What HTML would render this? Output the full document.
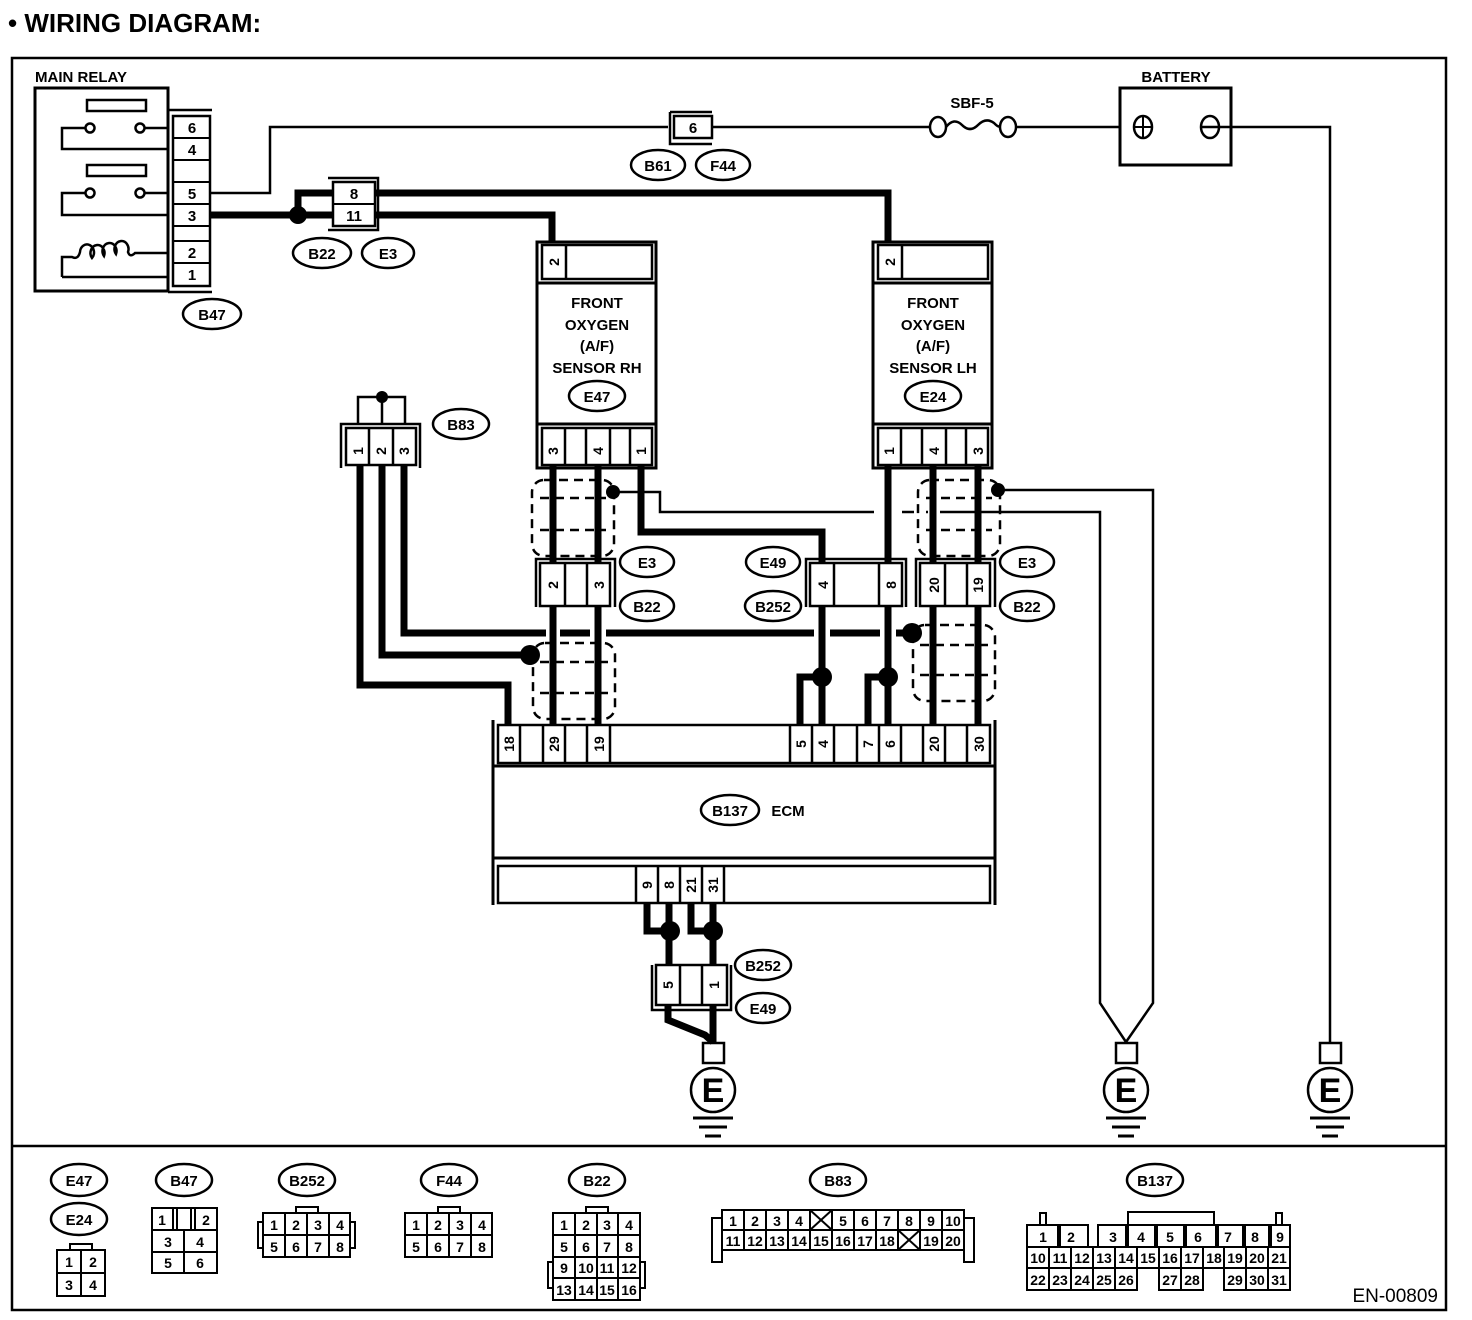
<!DOCTYPE html>
<html><head><meta charset="utf-8"><style>
html,body{margin:0;padding:0;background:#fff}
svg{display:block}
text{font-family:"Liberation Sans",Arial,sans-serif;font-weight:bold;fill:#000}
.l{font-size:15px}
.n{font-size:14px}
.g{font-size:13px;font-weight:normal}
</style></head><body>
<svg width="1472" height="1320" viewBox="0 0 1472 1320" xmlns="http://www.w3.org/2000/svg">
<g fill="none" stroke="#000">
<!-- frame -->
<rect x="12" y="58" width="1434" height="1252" stroke-width="2.5"/>
<line x1="12" y1="1146" x2="1446" y2="1146" stroke-width="2.5"/>

<!-- MAIN RELAY -->
<rect x="35" y="88" width="133" height="203" stroke-width="3"/>
<rect x="87" y="100" width="59" height="11" stroke-width="2.5"/>
<circle cx="90" cy="128" r="4.5" stroke-width="2.5"/><circle cx="140" cy="128" r="4.5" stroke-width="2.5"/>
<polyline points="86,128 62,128 62,149 168,149" stroke-width="2.5"/>
<line x1="145" y1="128" x2="168" y2="128" stroke-width="2.5"/>
<rect x="87" y="165" width="59" height="11" stroke-width="2.5"/>
<circle cx="90" cy="193" r="4.5" stroke-width="2.5"/><circle cx="140" cy="193" r="4.5" stroke-width="2.5"/>
<polyline points="86,193 62,193 62,215 168,215" stroke-width="2.5"/>
<line x1="145" y1="193" x2="168" y2="193" stroke-width="2.5"/>
<path d="M62,277 L62,257 L72,257 Q78,260 80,252 a7,8 0 1 1 12,6 a7,8 0 1 1 12,-2 a7,8 0 1 1 12,-2 a7,8 0 1 1 12,-2 Q130,258 135,253 L168,253" stroke-width="2.5"/>
<line x1="62" y1="277" x2="168" y2="277" stroke-width="2.5"/>
<!-- B47 connector -->
<polyline points="168,110 212,110" stroke-width="2.5"/>
<polyline points="168,292 212,292" stroke-width="2.5"/>
<rect x="173" y="116" width="37" height="170" stroke-width="2.5"/>
<line x1="173" y1="138" x2="210" y2="138" stroke-width="2"/>
<line x1="173" y1="160" x2="210" y2="160" stroke-width="2"/>
<line x1="173" y1="182" x2="210" y2="182" stroke-width="2"/>
<line x1="173" y1="204" x2="210" y2="204" stroke-width="2"/>
<line x1="173" y1="226" x2="210" y2="226" stroke-width="2"/>
<line x1="173" y1="241" x2="210" y2="241" stroke-width="2"/>
<line x1="173" y1="263" x2="210" y2="263" stroke-width="2"/>

<!-- thin wire relay 5 to battery -->
<polyline points="210,193 270,193 270,127 668,127" stroke-width="2.5"/>
<line x1="712" y1="127" x2="930" y2="127" stroke-width="2.5"/>
<polyline points="670,112 712,112" stroke-width="2.5"/>
<polyline points="670,112 670,144 712,144" stroke-width="2.5"/>
<rect x="674" y="116" width="38" height="22" stroke-width="2.5"/>
<ellipse cx="938" cy="127" rx="8" ry="10" stroke-width="2.5"/>
<ellipse cx="1008" cy="127" rx="8" ry="10" stroke-width="2.5"/>
<path d="M946,127 q8,-10 16,-2 t16,0 t16,-2 q6,6 6,2" stroke-width="2.5"/>
<line x1="1016" y1="127" x2="1120" y2="127" stroke-width="2.5"/>
<rect x="1120" y="88" width="111" height="77" stroke-width="3"/>
<ellipse cx="1143" cy="127" rx="9" ry="11" stroke-width="2.5"/>
<line x1="1134" y1="127" x2="1152" y2="127" stroke-width="2"/><line x1="1143" y1="117" x2="1143" y2="137" stroke-width="2"/>
<ellipse cx="1210" cy="127" rx="9" ry="11" stroke-width="2.5"/>
<polyline points="1201,127 1330,127 1330,1042" stroke-width="2.5"/>

<!-- thick wire relay 3 -->
<line x1="210" y1="215" x2="335" y2="215" stroke-width="7"/>
<polyline points="298,215 298,193 335,193" stroke-width="7"/>
<polyline points="328,178 378,178 378,230 328,230" stroke-width="2.5"/>
<rect x="333" y="182" width="42" height="44" fill="#fff" stroke-width="2.5"/>
<line x1="333" y1="204" x2="375" y2="204" stroke-width="2"/>
<polyline points="375,193 888,193 888,242" stroke-width="7"/>
<polyline points="375,215 552,215 552,242" stroke-width="7"/>

<!-- RH sensor -->
<rect x="537" y="242" width="119" height="226" stroke-width="3"/>
<rect x="542" y="245" width="110" height="34" stroke-width="2.5"/>
<line x1="566" y1="245" x2="566" y2="279" stroke-width="2.5"/>
<line x1="537" y1="283" x2="656" y2="283" stroke-width="3"/>
<line x1="537" y1="424" x2="656" y2="424" stroke-width="3"/>
<rect x="542" y="428" width="110" height="37" stroke-width="2.5"/>
<line x1="565" y1="428" x2="565" y2="465" stroke-width="2.5"/><line x1="586" y1="428" x2="586" y2="465" stroke-width="2.5"/>
<line x1="610" y1="428" x2="610" y2="465" stroke-width="2.5"/><line x1="630" y1="428" x2="630" y2="465" stroke-width="2.5"/>
<!-- LH sensor -->
<rect x="873" y="242" width="119" height="226" stroke-width="3"/>
<rect x="878" y="245" width="110" height="34" stroke-width="2.5"/>
<line x1="902" y1="245" x2="902" y2="279" stroke-width="2.5"/>
<line x1="873" y1="283" x2="992" y2="283" stroke-width="3"/>
<line x1="873" y1="424" x2="992" y2="424" stroke-width="3"/>
<rect x="878" y="428" width="110" height="37" stroke-width="2.5"/>
<line x1="901" y1="428" x2="901" y2="465" stroke-width="2.5"/><line x1="922" y1="428" x2="922" y2="465" stroke-width="2.5"/>
<line x1="946" y1="428" x2="946" y2="465" stroke-width="2.5"/><line x1="966" y1="428" x2="966" y2="465" stroke-width="2.5"/>

<!-- B83 -->
<polyline points="358,425 358,397 405,397 405,425" stroke-width="2.5"/>
<line x1="382" y1="397" x2="382" y2="425" stroke-width="2.5"/>
<polyline points="341,468 341,424 420,424 420,468" stroke-width="2.5"/>
<rect x="346" y="428" width="70" height="37" stroke-width="2.5"/>
<line x1="369" y1="428" x2="369" y2="465" stroke-width="2.5"/><line x1="393" y1="428" x2="393" y2="465" stroke-width="2.5"/>
<polyline points="360,465 360,685 508,685 508,725" stroke-width="7"/>
<polyline points="382,465 382,655 530,655" stroke-width="7"/>
<polyline points="404,465 404,633 546,633" stroke-width="7"/>
<line x1="560" y1="633" x2="590" y2="633" stroke-width="7"/>
<line x1="606" y1="633" x2="814" y2="633" stroke-width="7"/>
<line x1="830" y1="633" x2="880" y2="633" stroke-width="7"/>
<line x1="896" y1="633" x2="912" y2="633" stroke-width="7"/>

<!-- RH wires -->
<line x1="553" y1="465" x2="553" y2="725" stroke-width="7"/>
<line x1="598" y1="465" x2="598" y2="725" stroke-width="7"/>
<polyline points="641,465 641,532 822,532 822,725" stroke-width="7"/>
<!-- thin shield wire RH -->
<polyline points="613,492 660,492 660,512 874,512" stroke-width="2.5"/>
<line x1="902" y1="512" x2="914" y2="512" stroke-width="2.5"/>
<line x1="926" y1="512" x2="928" y2="512" stroke-width="2.5"/>
<polyline points="940,512 1100,512 1100,1003 1126,1042" stroke-width="2.5"/>
<polyline points="998,490 1153,490 1153,1003 1126,1042" stroke-width="2.5"/>

<!-- LH wires -->
<line x1="888" y1="465" x2="888" y2="725" stroke-width="7"/>
<line x1="933" y1="465" x2="933" y2="725" stroke-width="7"/>
<line x1="978" y1="465" x2="978" y2="725" stroke-width="7"/>
<polyline points="822,677 800,677 800,725" stroke-width="7"/>
<polyline points="888,677 868,677 868,725" stroke-width="7"/>

<!-- shields (dashed) -->
<g stroke-width="2.5" stroke-dasharray="9,6">
<rect x="532" y="480" width="82" height="76" rx="12"/>
<line x1="540" y1="498" x2="606" y2="498"/><line x1="540" y1="530" x2="606" y2="530"/>
<rect x="533" y="643" width="82" height="76" rx="12"/>
<line x1="540" y1="662" x2="608" y2="662"/><line x1="540" y1="693" x2="608" y2="693"/>
<rect x="918" y="480" width="82" height="76" rx="12"/>
<line x1="926" y1="498" x2="992" y2="498"/><line x1="926" y1="530" x2="992" y2="530"/>
<rect x="913" y="625" width="82" height="76" rx="12"/>
<line x1="920" y1="645" x2="988" y2="645"/><line x1="920" y1="675" x2="988" y2="675"/>
</g>

<!-- middle connectors -->
<polyline points="536,607 536,559 615,559 615,607" stroke-width="2.5"/>
<rect x="540" y="563" width="70" height="43" fill="#fff" stroke-width="2.5"/>
<line x1="565" y1="563" x2="565" y2="606" stroke-width="2.5"/><line x1="587" y1="563" x2="587" y2="606" stroke-width="2.5"/>
<polyline points="806,607 806,559 906,559 906,607" stroke-width="2.5"/>
<rect x="810" y="563" width="92" height="43" fill="#fff" stroke-width="2.5"/>
<line x1="834" y1="563" x2="834" y2="606" stroke-width="2.5"/><line x1="879" y1="563" x2="879" y2="606" stroke-width="2.5"/>
<polyline points="916,607 916,559 995,559 995,607" stroke-width="2.5"/>
<rect x="920" y="563" width="70" height="43" fill="#fff" stroke-width="2.5"/>
<line x1="945" y1="563" x2="945" y2="606" stroke-width="2.5"/><line x1="967" y1="563" x2="967" y2="606" stroke-width="2.5"/>

<!-- ECM -->
<line x1="493" y1="720" x2="493" y2="905" stroke-width="3"/>
<line x1="995" y1="720" x2="995" y2="905" stroke-width="3"/>
<rect x="498" y="725" width="492" height="38" fill="#fff" stroke-width="2.5"/>
<line x1="493" y1="766" x2="995" y2="766" stroke-width="3"/>
<line x1="493" y1="858" x2="995" y2="858" stroke-width="3"/>
<rect x="498" y="866" width="492" height="37" stroke-width="2.5"/>
<g stroke-width="2.5">
<line x1="520" y1="725" x2="520" y2="763"/><line x1="543" y1="725" x2="543" y2="763"/><line x1="565" y1="725" x2="565" y2="763"/>
<line x1="587" y1="725" x2="587" y2="763"/><line x1="610" y1="725" x2="610" y2="763"/><line x1="790" y1="725" x2="790" y2="763"/>
<line x1="812" y1="725" x2="812" y2="763"/><line x1="834" y1="725" x2="834" y2="763"/><line x1="857" y1="725" x2="857" y2="763"/>
<line x1="879" y1="725" x2="879" y2="763"/><line x1="901" y1="725" x2="901" y2="763"/><line x1="923" y1="725" x2="923" y2="763"/>
<line x1="945" y1="725" x2="945" y2="763"/><line x1="967" y1="725" x2="967" y2="763"/>
<line x1="636" y1="866" x2="636" y2="903"/><line x1="658" y1="866" x2="658" y2="903"/><line x1="680" y1="866" x2="680" y2="903"/>
<line x1="702" y1="866" x2="702" y2="903"/><line x1="724" y1="866" x2="724" y2="903"/>
</g>
<!-- ECM bottom wires -->
<polyline points="647,903 647,931 670,931" stroke-width="7"/>
<line x1="669" y1="903" x2="669" y2="967" stroke-width="7"/>
<polyline points="691,903 691,931 713,931" stroke-width="7"/>
<line x1="713" y1="903" x2="713" y2="1042" stroke-width="7"/>
<polyline points="668,1003 668,1020 705,1035 713,1042" stroke-width="7"/>
<polyline points="652,965 652,1010 731,1010 731,965" stroke-width="2.5"/>
<rect x="656" y="965" width="71" height="40" fill="#fff" stroke-width="2.5"/>
<line x1="680" y1="965" x2="680" y2="1005" stroke-width="2.5"/><line x1="702" y1="965" x2="702" y2="1005" stroke-width="2.5"/>

<!-- grounds -->
<rect x="703" y="1043" width="21" height="20" stroke-width="2.5"/>
<circle cx="713" cy="1090" r="22" stroke-width="2.5"/>
<line x1="693" y1="1118" x2="733" y2="1118" stroke-width="3"/><line x1="699" y1="1127" x2="727" y2="1127" stroke-width="3"/><line x1="705" y1="1136" x2="721" y2="1136" stroke-width="3"/>
<rect x="1116" y="1043" width="21" height="20" stroke-width="2.5"/>
<circle cx="1126" cy="1090" r="22" stroke-width="2.5"/>
<line x1="1106" y1="1118" x2="1146" y2="1118" stroke-width="3"/><line x1="1112" y1="1127" x2="1140" y2="1127" stroke-width="3"/><line x1="1118" y1="1136" x2="1134" y2="1136" stroke-width="3"/>
<rect x="1320" y="1043" width="21" height="20" stroke-width="2.5"/>
<circle cx="1330" cy="1090" r="22" stroke-width="2.5"/>
<line x1="1310" y1="1118" x2="1350" y2="1118" stroke-width="3"/><line x1="1316" y1="1127" x2="1344" y2="1127" stroke-width="3"/><line x1="1322" y1="1136" x2="1338" y2="1136" stroke-width="3"/>

<!-- label ellipses -->
<g stroke-width="2.5">
<ellipse cx="212" cy="314" rx="29" ry="15"/>
<ellipse cx="322" cy="253" rx="29" ry="15"/><ellipse cx="388" cy="253" rx="26" ry="15"/>
<ellipse cx="658" cy="165" rx="27" ry="15"/><ellipse cx="723" cy="165" rx="27" ry="15"/>
<ellipse cx="597" cy="396" rx="28" ry="15"/><ellipse cx="933" cy="396" rx="28" ry="15"/>
<ellipse cx="461" cy="424" rx="28" ry="15"/>
<ellipse cx="647" cy="562" rx="27" ry="15"/><ellipse cx="647" cy="606" rx="27" ry="15"/>
<ellipse cx="773" cy="562" rx="27" ry="15"/><ellipse cx="773" cy="606" rx="28" ry="15"/>
<ellipse cx="1027" cy="562" rx="27" ry="15"/><ellipse cx="1027" cy="606" rx="27" ry="15"/>
<ellipse cx="730" cy="810" rx="29" ry="15"/>
<ellipse cx="763" cy="965" rx="28" ry="15"/><ellipse cx="763" cy="1008" rx="27" ry="15"/>
<!-- legend ellipses -->
<ellipse cx="79" cy="1180" rx="28" ry="16"/><ellipse cx="79" cy="1219" rx="28" ry="16"/>
<ellipse cx="184" cy="1180" rx="28" ry="16"/><ellipse cx="307" cy="1180" rx="28" ry="16"/>
<ellipse cx="449" cy="1180" rx="28" ry="16"/><ellipse cx="597" cy="1180" rx="28" ry="16"/>
<ellipse cx="838" cy="1180" rx="28" ry="16"/><ellipse cx="1155" cy="1180" rx="28" ry="16"/>
</g>

<!-- legends -->
<g stroke-width="2">
<rect x="70" y="1244" width="22" height="6"/>
<rect x="57" y="1250" width="48" height="46"/><line x1="81" y1="1250" x2="81" y2="1296"/><line x1="57" y1="1273" x2="105" y2="1273"/>
<rect x="152" y="1208" width="65" height="65"/><line x1="152" y1="1230" x2="217" y2="1230"/><line x1="152" y1="1252" x2="217" y2="1252"/>
<line x1="184" y1="1230" x2="184" y2="1273"/><line x1="173" y1="1208" x2="173" y2="1230"/><line x1="195" y1="1208" x2="195" y2="1230"/><rect x="177" y="1208" width="14" height="22"/>
<rect x="296" y="1207" width="22" height="6"/><rect x="258" y="1222" width="5" height="26"/><rect x="350" y="1222" width="5" height="26"/>
<rect x="263" y="1213" width="87" height="44"/><line x1="263" y1="1235" x2="350" y2="1235"/>
<line x1="285" y1="1213" x2="285" y2="1257"/><line x1="307" y1="1213" x2="307" y2="1257"/><line x1="329" y1="1213" x2="329" y2="1257"/>
<rect x="438" y="1207" width="22" height="6"/>
<rect x="405" y="1213" width="87" height="44"/><line x1="405" y1="1235" x2="492" y2="1235"/>
<line x1="427" y1="1213" x2="427" y2="1257"/><line x1="449" y1="1213" x2="449" y2="1257"/><line x1="471" y1="1213" x2="471" y2="1257"/>
<rect x="586" y="1207" width="22" height="6"/><rect x="548" y="1262" width="5" height="26"/><rect x="640" y="1262" width="5" height="26"/>
<rect x="553" y="1213" width="87" height="87"/><line x1="553" y1="1235" x2="640" y2="1235"/><line x1="553" y1="1257" x2="640" y2="1257"/><line x1="553" y1="1278" x2="640" y2="1278"/>
<line x1="575" y1="1213" x2="575" y2="1300"/><line x1="597" y1="1213" x2="597" y2="1300"/><line x1="618" y1="1213" x2="618" y2="1300"/>
<!-- B83 -->
<rect x="712" y="1218" width="10" height="44"/><rect x="964" y="1218" width="10" height="44"/>
<rect x="722" y="1210" width="242" height="40"/><line x1="722" y1="1230" x2="964" y2="1230"/>
<line x1="744" y1="1210" x2="744" y2="1250"/><line x1="766" y1="1210" x2="766" y2="1250"/><line x1="788" y1="1210" x2="788" y2="1250"/>
<line x1="810" y1="1210" x2="810" y2="1250"/><line x1="832" y1="1210" x2="832" y2="1250"/><line x1="854" y1="1210" x2="854" y2="1250"/>
<line x1="876" y1="1210" x2="876" y2="1250"/><line x1="898" y1="1210" x2="898" y2="1250"/><line x1="920" y1="1210" x2="920" y2="1250"/>
<line x1="942" y1="1210" x2="942" y2="1250"/>
<line x1="810" y1="1210" x2="832" y2="1230"/><line x1="832" y1="1210" x2="810" y2="1230"/>
<line x1="898" y1="1230" x2="920" y2="1250"/><line x1="920" y1="1230" x2="898" y2="1250"/>
<!-- B137 -->
<rect x="1128" y="1212" width="86" height="13"/><rect x="1040" y="1213" width="6" height="12"/><rect x="1276" y="1213" width="6" height="12"/>
<rect x="1027" y="1225" width="31" height="22"/><rect x="1060" y="1225" width="28" height="22"/>
<rect x="1098" y="1225" width="28" height="22"/><rect x="1128" y="1225" width="27" height="22"/><rect x="1157" y="1225" width="27" height="22"/>
<rect x="1186" y="1225" width="30" height="22"/><rect x="1218" y="1225" width="25" height="22"/><rect x="1245" y="1225" width="24" height="22"/><rect x="1271" y="1225" width="19" height="22"/>
<rect x="1027" y="1247" width="263" height="21"/>
<line x1="1049" y1="1247" x2="1049" y2="1290"/><line x1="1071" y1="1247" x2="1071" y2="1290"/><line x1="1093" y1="1247" x2="1093" y2="1290"/>
<line x1="1115" y1="1247" x2="1115" y2="1290"/><line x1="1137" y1="1247" x2="1137" y2="1290"/><line x1="1159" y1="1247" x2="1159" y2="1268"/>
<line x1="1181" y1="1247" x2="1181" y2="1290"/><line x1="1203" y1="1247" x2="1203" y2="1268"/><line x1="1224" y1="1247" x2="1224" y2="1268"/>
<line x1="1246" y1="1247" x2="1246" y2="1290"/><line x1="1268" y1="1247" x2="1268" y2="1290"/>
<polyline points="1027,1268 1027,1290 1137,1290 1137,1268"/>
<polyline points="1159,1268 1159,1290 1203,1290 1203,1268"/>
<polyline points="1224,1268 1224,1290 1290,1290 1290,1268"/>
</g>
</g>

<!-- dots -->
<g fill="#000">
<circle cx="298" cy="215" r="9"/><circle cx="382" cy="397" r="6"/>
<circle cx="613" cy="492" r="7"/><circle cx="998" cy="490" r="7"/>
<circle cx="530" cy="655" r="10"/><circle cx="912" cy="633" r="10"/>
<circle cx="822" cy="677" r="10"/><circle cx="888" cy="677" r="10"/>
<circle cx="670" cy="931" r="10"/><circle cx="713" cy="931" r="10"/>
</g>

<!-- text -->
<text x="8" y="32" style="font-size:26px">•  WIRING DIAGRAM:</text>
<text x="35" y="82" class="l">MAIN RELAY</text>
<text x="1176" y="82" class="l" text-anchor="middle">BATTERY</text>
<text x="972" y="108" class="l" text-anchor="middle">SBF-5</text>
<g class="l" text-anchor="middle">
<text x="192" y="133">6</text><text x="192" y="155">4</text><text x="192" y="199">5</text><text x="192" y="221">3</text>
<text x="192" y="258">2</text><text x="192" y="280">1</text>
<text x="354" y="199">8</text><text x="354" y="221">11</text>
<text x="693" y="133">6</text>
<text x="597" y="308">FRONT</text><text x="597" y="330">OXYGEN</text><text x="597" y="351">(A/F)</text><text x="597" y="373">SENSOR RH</text>
<text x="933" y="308">FRONT</text><text x="933" y="330">OXYGEN</text><text x="933" y="351">(A/F)</text><text x="933" y="373">SENSOR LH</text>
<text x="212" y="320">B47</text><text x="322" y="259">B22</text><text x="388" y="259">E3</text>
<text x="658" y="171">B61</text><text x="723" y="171">F44</text>
<text x="597" y="402">E47</text><text x="933" y="402">E24</text><text x="461" y="430">B83</text>
<text x="647" y="568">E3</text><text x="647" y="612">B22</text><text x="773" y="568">E49</text><text x="773" y="612">B252</text>
<text x="1027" y="568">E3</text><text x="1027" y="612">B22</text>
<text x="730" y="816">B137</text><text x="788" y="816">ECM</text>
<text x="763" y="971">B252</text><text x="763" y="1014">E49</text>
<text x="79" y="1186">E47</text><text x="79" y="1225">E24</text><text x="184" y="1186">B47</text><text x="307" y="1186">B252</text>
<text x="449" y="1186">F44</text><text x="597" y="1186">B22</text><text x="838" y="1186">B83</text><text x="1155" y="1186">B137</text>
</g>
<g style="font-size:34px" text-anchor="middle">
<text x="713" y="1102">E</text><text x="1126" y="1102">E</text><text x="1330" y="1102">E</text>
</g>
<!-- rotated pin numbers -->
<g class="n" text-anchor="middle">
<text transform="translate(559,262) rotate(-90)">2</text>
<text transform="translate(558,451) rotate(-90)">3</text><text transform="translate(603,451) rotate(-90)">4</text><text transform="translate(646,451) rotate(-90)">1</text>
<text transform="translate(895,262) rotate(-90)">2</text>
<text transform="translate(894,451) rotate(-90)">1</text><text transform="translate(939,451) rotate(-90)">4</text><text transform="translate(983,451) rotate(-90)">3</text>
<text transform="translate(363,451) rotate(-90)">1</text><text transform="translate(386,451) rotate(-90)">2</text><text transform="translate(409,451) rotate(-90)">3</text>
<text transform="translate(558,585) rotate(-90)">2</text><text transform="translate(604,585) rotate(-90)">3</text>
<text transform="translate(828,585) rotate(-90)">4</text><text transform="translate(896,585) rotate(-90)">8</text>
<text transform="translate(939,585) rotate(-90)">20</text><text transform="translate(983,585) rotate(-90)">19</text>
<text transform="translate(514,744) rotate(-90)">18</text><text transform="translate(559,744) rotate(-90)">29</text><text transform="translate(604,744) rotate(-90)">19</text>
<text transform="translate(806,744) rotate(-90)">5</text><text transform="translate(828,744) rotate(-90)">4</text>
<text transform="translate(873,744) rotate(-90)">7</text><text transform="translate(895,744) rotate(-90)">6</text>
<text transform="translate(939,744) rotate(-90)">20</text><text transform="translate(984,744) rotate(-90)">30</text>
<text transform="translate(652,885) rotate(-90)">9</text><text transform="translate(674,885) rotate(-90)">8</text>
<text transform="translate(696,885) rotate(-90)">21</text><text transform="translate(718,885) rotate(-90)">31</text>
<text transform="translate(673,985) rotate(-90)">5</text><text transform="translate(719,985) rotate(-90)">1</text>
</g>
<!-- legend numbers -->
<g class="g" text-anchor="middle" style="font-size:14px">
<text x="69" y="1267">1</text><text x="93" y="1267">2</text><text x="69" y="1290">3</text><text x="93" y="1290">4</text>
<text x="162" y="1225">1</text><text x="206" y="1225">2</text><text x="168" y="1247">3</text><text x="200" y="1247">4</text><text x="168" y="1268">5</text><text x="200" y="1268">6</text>
<text x="274" y="1230">1</text><text x="296" y="1230">2</text><text x="318" y="1230">3</text><text x="340" y="1230">4</text>
<text x="274" y="1252">5</text><text x="296" y="1252">6</text><text x="318" y="1252">7</text><text x="340" y="1252">8</text>
<text x="416" y="1230">1</text><text x="438" y="1230">2</text><text x="460" y="1230">3</text><text x="482" y="1230">4</text>
<text x="416" y="1252">5</text><text x="438" y="1252">6</text><text x="460" y="1252">7</text><text x="482" y="1252">8</text>
<text x="564" y="1230">1</text><text x="586" y="1230">2</text><text x="607" y="1230">3</text><text x="629" y="1230">4</text>
<text x="564" y="1252">5</text><text x="586" y="1252">6</text><text x="607" y="1252">7</text><text x="629" y="1252">8</text>
<text x="564" y="1273">9</text><text x="586" y="1273">10</text><text x="607" y="1273">11</text><text x="629" y="1273">12</text>
<text x="564" y="1295">13</text><text x="586" y="1295">14</text><text x="607" y="1295">15</text><text x="629" y="1295">16</text>
<text x="733" y="1226">1</text><text x="755" y="1226">2</text><text x="777" y="1226">3</text><text x="799" y="1226">4</text>
<text x="843" y="1226">5</text><text x="865" y="1226">6</text><text x="887" y="1226">7</text><text x="909" y="1226">8</text><text x="931" y="1226">9</text><text x="953" y="1226">10</text>
<text x="733" y="1246">11</text><text x="755" y="1246">12</text><text x="777" y="1246">13</text><text x="799" y="1246">14</text><text x="821" y="1246">15</text>
<text x="843" y="1246">16</text><text x="865" y="1246">17</text><text x="887" y="1246">18</text><text x="931" y="1246">19</text><text x="953" y="1246">20</text>
<text x="1043" y="1242">1</text><text x="1071" y="1242">2</text><text x="1113" y="1242">3</text><text x="1141" y="1242">4</text><text x="1170" y="1242">5</text>
<text x="1198" y="1242">6</text><text x="1228" y="1242">7</text><text x="1255" y="1242">8</text><text x="1280" y="1242">9</text>
<text x="1038" y="1263">10</text><text x="1060" y="1263">11</text><text x="1082" y="1263">12</text><text x="1104" y="1263">13</text><text x="1126" y="1263">14</text><text x="1148" y="1263">15</text>
<text x="1170" y="1263">16</text><text x="1192" y="1263">17</text><text x="1214" y="1263">18</text><text x="1235" y="1263">19</text><text x="1257" y="1263">20</text><text x="1279" y="1263">21</text>
<text x="1038" y="1285">22</text><text x="1060" y="1285">23</text><text x="1082" y="1285">24</text><text x="1104" y="1285">25</text><text x="1126" y="1285">26</text>
<text x="1170" y="1285">27</text><text x="1192" y="1285">28</text><text x="1235" y="1285">29</text><text x="1257" y="1285">30</text><text x="1279" y="1285">31</text>
</g>
<text x="1438" y="1302" text-anchor="end" style="font-size:19px;font-weight:normal">EN-00809</text>
</svg>
</body></html>
